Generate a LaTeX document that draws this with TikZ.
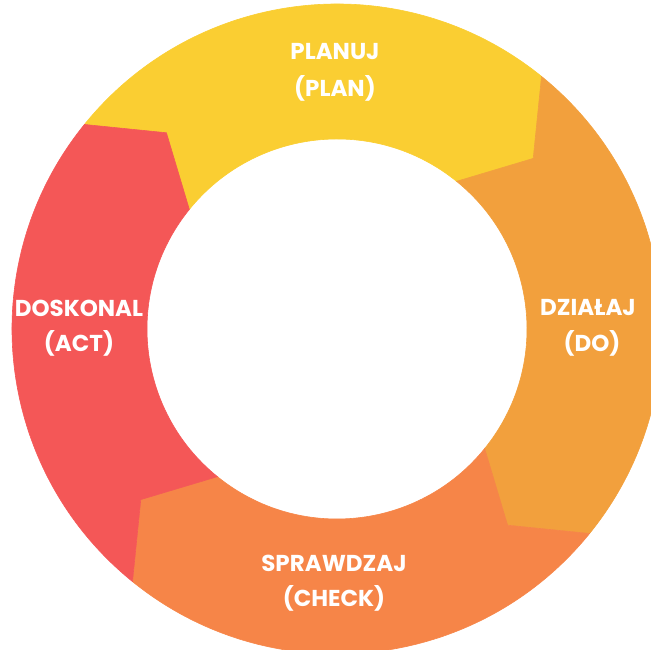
\documentclass[tikz,border=0pt]{standalone}
\usepackage{fontspec}
\setmainfont{Poppins}
\usetikzlibrary{calc}

\definecolor{planc}{HTML}{FACE32}
\definecolor{doc}{HTML}{F2A03D}
\definecolor{checkc}{HTML}{F68548}
\definecolor{actc}{HTML}{F45757}

\tikzset{
  stagelabel/.style={text=white, font=\bfseries\fontsize{23}{23}\selectfont,
    inner sep=0pt, anchor=center},
}

\begin{document}
\begin{tikzpicture}[x=1pt, y=1pt]
  \useasboundingbox (0,0) rectangle (651,650);
  \clip (0,0) rectangle (651,650);
  \coordinate (c) at (337,321);
  % ring radii: outer, arrow tip, inner
  \def\Rout{325}
  \def\Rtip{260}
  \def\Rin{190}
  % each quarter of the ring: outer arc, arrow tip into the next stage,
  % inner arc, notch taken by the previous stage's tip
  \foreach \s/\col in {141/planc, 51/doc, -39/checkc, 231/actc}{
    \pgfmathsetmacro{\e}{\s-90}
    \filldraw[fill=\col, draw=\col, line width=0.6pt, line join=miter]
      ($(c)+(\s:\Rout)$) arc[start angle=\s, end angle=\e, radius=\Rout]
      -- ($(c)+(\e-10:\Rtip)$)
      -- ($(c)+(\e:\Rin)$)
      arc[start angle=\e, end angle=\s, radius=\Rin]
      -- ($(c)+(\s-10:\Rtip)$)
      -- cycle;
  }
  % stage labels
  \node[stagelabel] (plan1) at (335,598) {PLANUJ};
  \node[stagelabel] (plan2) at (335,562) {(PLAN)};
  \node[stagelabel] (do1) at (588,342) {DZIAŁAJ};
  \node[stagelabel] (do2) at (592,307) {(DO)};
  \node[stagelabel] (check1) at (334,87) {SPRAWDZAJ};
  \node[stagelabel] (check2) at (334,52) {(CHECK)};
  \node[stagelabel] (act1) at (79,342) {DOSKONAL};
  \node[stagelabel] (act2) at (79,307) {(ACT)};
\end{tikzpicture}
\end{document}
